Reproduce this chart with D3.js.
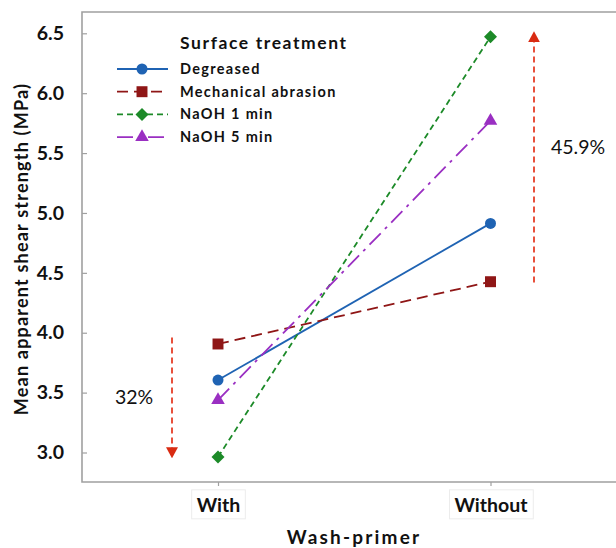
<!DOCTYPE html>
<html>
<head>
  <meta charset="UTF-8">
  <script src="https://d3js.org/d3.v7.min.js"></script>
  <style>
    body { margin: 0; background: #fff; }
    text { font-family: Lato, "Open Sans", sans-serif; }
  </style>
</head>
<body>
  <svg height="548" width="616" id="chart">
    <defs>
      <marker id="head" markerWidth="11" markerHeight="12" refX="6" refY="6" orient="auto" markerUnits="userSpaceOnUse">
        <path d="M 0 0 L 11 6 L 0 12 Z" fill="#d92b12" />
      </marker>
    </defs>
  </svg>

  <script>
    // data
    let groups = ["With", "Without"];
    let series = ["Degreased", "Mechanical abrasion", "NaOH 1 min", "NaOH 5 min"];
    let degreased = [3.605, 4.913];
    let mechanical = [3.906, 4.426];
    let naoh1 = [2.962, 6.471];
    let naoh5 = [3.438, 5.77];
    let yTicks = [3.0, 3.5, 4.0, 4.5, 5.0, 5.5, 6.0, 6.5];
    let changeDown = [3.96, 2.96, "32%"];
    let changeUp = [4.42, 6.5, "45.9%"];

    let values = [degreased, mechanical, naoh1, naoh5];
    let colors = ["#1f63b3", "#8f1616", "#1c8a28", "#9a2fc2"];
    let dashes = [null, "11,6", "6,4", "16,6,3,6"];
    let symbols = [d3.symbolCircle, d3.symbolSquare, d3.symbolSquare, d3.symbolTriangle];
    let sizes = [95, 120, 85, 80];
    let rotations = [0, 0, 45, 0];

    let margin = { top: 12, right: 0, bottom: 66, left: 82 };
    let svg = d3.select("svg");
    let width = +svg.attr("width");
    let height = +svg.attr("height");

    let x = d3.scalePoint()
      .domain(groups)
      .range([218, 490.5]);

    let y = d3.scaleLinear()
      .domain([3, 6.5])
      .range([452.5, 33.3]);

    // frame
    let frameBottom = height - margin.bottom;
    svg.append("path")
      .attr("d", `M ${width + 5} ${margin.top} H ${margin.left} V ${frameBottom} H ${width + 5}`)
      .attr("fill", "none")
      .attr("stroke", "#a0a0a0")
      .attr("stroke-width", 1.6);

    // y axis
    let yAxis = svg.append("g")
      .attr("transform", `translate(${margin.left}, 0)`)
      .call(d3.axisRight(y).tickValues(yTicks).tickSize(5).tickFormat(d3.format(".1f")));
    yAxis.select(".domain").remove();
    yAxis.selectAll("line").attr("stroke", "#a0a0a0").attr("stroke-width", 1.2);
    yAxis.selectAll("text")
      .attr("x", -18)
      .attr("text-anchor", "end")
      .attr("font-size", 19.5)
      .attr("font-weight", "bold")
      .attr("fill", "#111");

    // x axis
    let xAxis = svg.append("g")
      .attr("transform", `translate(0, ${frameBottom})`)
      .call(d3.axisBottom(x).tickSize(4));
    xAxis.select(".domain").remove();
    xAxis.selectAll("line").attr("stroke", "#a0a0a0").attr("stroke-width", 1.2);
    xAxis.selectAll("text")
      .attr("y", 23)
      .attr("dy", "0.35em")
      .attr("font-size", 19.5)
      .attr("font-weight", "bold")
      .attr("fill", "#111");
    xAxis.selectAll(".tick").each(function() {
      let t = d3.select(this).select("text");
      let b = t.node().getBBox();
      d3.select(this).insert("rect", "text")
        .attr("x", b.x - 5).attr("y", b.y - 3)
        .attr("width", b.width + 10).attr("height", b.height + 6)
        .attr("fill", "none").attr("stroke", "#ececec");
    });

    // axis titles
    svg.append("text")
      .attr("transform", `translate(28, ${(margin.top + frameBottom) / 2 + 2}) rotate(-90)`)
      .attr("text-anchor", "middle")
      .attr("font-size", 18)
      .attr("font-weight", "bold")
      .attr("letter-spacing", 1.2)
      .attr("fill", "#111")
      .text("Mean apparent shear strength (MPa)");

    svg.append("text")
      .attr("x", 354)
      .attr("y", 537)
      .attr("dy", "0.35em")
      .attr("text-anchor", "middle")
      .attr("font-size", 19)
      .attr("font-weight", "bold")
      .attr("letter-spacing", 2.2)
      .attr("fill", "#111")
      .text("Wash-primer");

    // lines and markers
    let line = d3.line()
      .x((d, i) => x(groups[i]))
      .y(d => y(d));

    values.forEach(function(v, k) {
      svg.append("path")
        .attr("d", line(v))
        .attr("fill", "none")
        .attr("stroke", colors[k])
        .attr("stroke-width", 1.8)
        .attr("stroke-dasharray", dashes[k]);
    });

    values.forEach(function(v, k) {
      svg.selectAll(null)
        .data(v)
        .enter()
        .append("path")
        .attr("transform", (d, i) => `translate(${x(groups[i])}, ${y(d)}) rotate(${rotations[k]})`)
        .attr("d", d3.symbol().type(symbols[k]).size(sizes[k]))
        .attr("fill", colors[k]);
    });

    // change arrows
    [[changeDown, 172, 115, 397], [changeUp, 534, 551, 147]].forEach(function(a) {
      let c = a[0];
      svg.append("line")
        .attr("x1", a[1]).attr("y1", y(c[0]))
        .attr("x2", a[1]).attr("y2", y(c[1]) + (c[1] < c[0] ? -4 : 3))
        .attr("stroke", "#e8503c")
        .attr("stroke-width", 2)
        .attr("stroke-dasharray", "6,4")
        .attr("marker-end", "url(#head)");
      svg.append("text")
        .attr("x", a[2])
        .attr("y", a[3])
        .attr("dy", "0.35em")
        .attr("font-size", 19.5)
        .attr("fill", "#111")
        .text(c[2]);
    });

    // legend
    let legend = svg.append("g");
    legend.append("text")
      .attr("x", 180)
      .attr("y", 43)
      .attr("dy", "0.35em")
      .attr("font-size", 17.5)
      .attr("font-weight", "bold")
      .attr("letter-spacing", 1.6)
      .attr("fill", "#111")
      .text("Surface treatment");

    series.forEach(function(s, k) {
      let ly = 69 + k * 22.7;
      legend.append("line")
        .attr("x1", 117).attr("x2", 168)
        .attr("y1", ly).attr("y2", ly)
        .attr("stroke", colors[k])
        .attr("stroke-width", 1.8)
        .attr("stroke-dasharray", dashes[k]);
      legend.append("path")
        .attr("transform", `translate(142, ${ly}) rotate(${rotations[k]})`)
        .attr("d", d3.symbol().type(symbols[k]).size(sizes[k]))
        .attr("fill", colors[k]);
      legend.append("text")
        .attr("x", 180)
        .attr("y", ly)
        .attr("dy", "0.35em")
        .attr("font-size", 14.5)
        .attr("font-weight", "bold")
        .attr("letter-spacing", 1.3)
        .attr("fill", "#111")
        .text(s);
    });
  </script>
</body>
</html>
